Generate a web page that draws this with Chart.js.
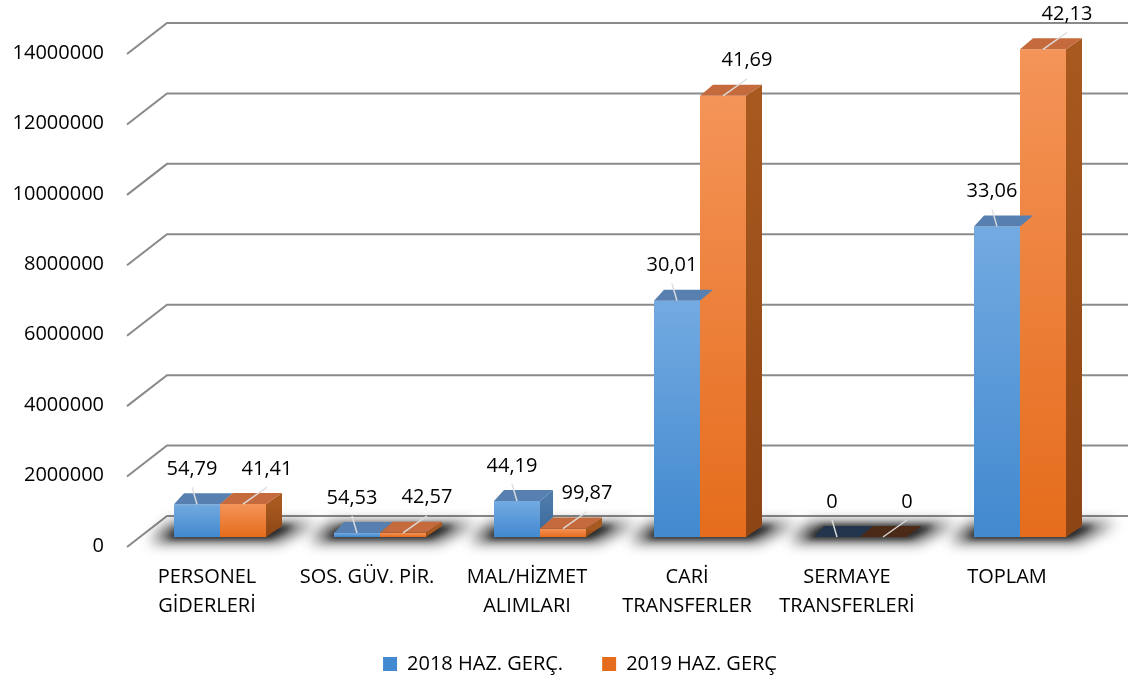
<!DOCTYPE html>
<html><head><meta charset="utf-8">
<script src="https://cdn.jsdelivr.net/npm/chart.js@4.4.1/dist/chart.umd.min.js"></script>
<style>html,body{margin:0;padding:0;background:#fff;}canvas{display:block}</style>
</head><body>
<canvas id="c" width="1136" height="684"></canvas>
<script>
const categories = [["PERSONEL","GİDERLERİ"],["SOS. GÜV. PİR."],["MAL/HİZMET","ALIMLARI"],["CARİ","TRANSFERLER"],["SERMAYE","TRANSFERLERİ"],["TOPLAM"]];
const seriesNames = ["2018 HAZ. GERÇ.", "2019 HAZ. GERÇ"];
const values2018 = [930000, 115000, 1020000, 6710000, 0, 8820000];
const values2019 = [935000, 120000, 240000, 12530000, 0, 13850000];
const labels2018 = ["54,79","54,53","44,19","30,01","0","33,06"];
const labels2019 = ["41,41","42,57","99,87","41,69","0","42,13"];
const yTicks = [0, 2000000, 4000000, 6000000, 8000000, 10000000, 12000000, 14000000];

const FONT = "'Open Sans', sans-serif";
const DXL = 10, DXR = 16, DY = -11;
const palette = [
  {solid:'#5b9bd5', front:['#73aae1','#4289cf'], top:'#5780b0', side:['#4a79aa','#3a6899'], zeroTop:'#22354c', label:{dx:-5, dy:-35}},
  {solid:'#ed7d31', front:['#f49458','#e56c1c'], top:'#c46a3c', side:['#a8591f','#8e4514'], zeroTop:'#4b2a18', label:{dx:24, dy:-35}}
];

function frontFill(c){
  const ds = c.datasetIndex;
  const p = palette[ds];
  if (c.type !== 'data' || !c.chart.scales || !c.chart.scales.y) return p.solid;
  const ys = c.chart.scales.y;
  const top = ys.getPixelForValue(c.parsed.y), base = ys.getPixelForValue(0);
  if (!isFinite(top) || !isFinite(base) || Math.abs(base - top) < 1) return p.front[1];
  const g = c.chart.ctx.createLinearGradient(0, top, 0, base);
  g.addColorStop(0, p.front[0]); g.addColorStop(1, p.front[1]);
  return g;
}
function dxAt(px, pairL, pairW){
  return DXL + (DXR - DXL) * Math.max(0, Math.min(1, (px - pairL) / pairW));
}
function poly(ctx, pts, fill){
  ctx.beginPath(); ctx.moveTo(pts[0][0], pts[0][1]);
  for (let k = 1; k < pts.length; k++) ctx.lineTo(pts[k][0], pts[k][1]);
  ctx.closePath(); ctx.fillStyle = fill; ctx.fill();
}

const threeD = {
  id: 'threeD',
  afterLayout(chart){
    if (chart.legend) { chart.legend.left += 30; chart.legend.right += 30; }
  },
  beforeDatasetsDraw(chart){
    const {ctx, chartArea: a, scales: {y}} = chart;
    ctx.save();
    ctx.strokeStyle = '#8a8a8a'; ctx.lineWidth = 2;
    yTicks.forEach(v => {
      const py = y.getPixelForValue(v);
      ctx.beginPath(); ctx.moveTo(a.left - 13, py + 10); ctx.lineTo(a.left + 27, py - 21); ctx.lineTo(chart.width - 8, py - 21); ctx.stroke();
    });
    const m0 = chart.getDatasetMeta(0), m1 = chart.getDatasetMeta(1);
    m0.data.forEach((b, i) => {
      const w = b.width, L = b.x - w/2, R = m1.data[i].x + w/2, base = b.base;
      ctx.save();
      ctx.filter = 'blur(7px)';
      poly(ctx, [[L-24, base+5],[R+12, base+5],[R+DXR+34, base+DY-3],[L+DXL-14, base+DY-3]], 'rgba(20,20,20,0.75)');
      ctx.filter = 'blur(3px)';
      poly(ctx, [[L-8, base+2],[R+4, base+2],[R+DXR+14, base+DY-1],[L+DXL-2, base+DY-1]], 'rgba(10,10,10,0.7)');
      ctx.restore();
    });
    ctx.restore();
  },
  afterDatasetsDraw(chart){
    const ctx = chart.ctx, xs = chart.scales.x;
    const metas = [chart.getDatasetMeta(0), chart.getDatasetMeta(1)];
    ctx.save();
    metas[0].data.forEach((b0, i) => {
      const b1 = metas[1].data[i];
      const w = b0.width, c = xs.getPixelForValue(i), pairL = c - w, pairW = 2*w;
      [b0, b1].forEach((b, ds) => {
        const p = palette[ds];
        const L = b.x - w/2, R = b.x + w/2, top = b.y, base = b.base;
        const dl = dxAt(L, pairL, pairW), dr = dxAt(R, pairL, pairW);
        const v = chart.data.datasets[ds].data[i];
        const sideBottom = ds === 0 ? Math.min(base, b1.y) : base;
        if (sideBottom - top > 0.5) {
          const g = ctx.createLinearGradient(0, top, 0, base);
          g.addColorStop(0, p.side[0]); g.addColorStop(1, p.side[1]);
          poly(ctx, [[R, top],[R+dr, top+DY],[R+dr, sideBottom+DY],[R, sideBottom]], g);
        }
        poly(ctx, [[L, top],[R, top],[R+dr, top+DY],[L+dl, top+DY]], v === 0 ? p.zeroTop : p.top);
      });
    });
    [0, 1].forEach(ds => {
      const p = palette[ds];
      const texts = ds === 0 ? labels2018 : labels2019;
      metas[ds].data.forEach((b, i) => {
        const ax = b.x, ay = b.y, lx = ax + p.label.dx, ly = ay + p.label.dy;
        ctx.strokeStyle = 'rgba(222,222,222,0.95)'; ctx.lineWidth = 1.5;
        ctx.beginPath(); ctx.moveTo(ax, ay); ctx.lineTo(lx, ly + 18); ctx.stroke();
        ctx.fillStyle = '#000'; ctx.font = '20px ' + FONT; ctx.textAlign = 'center'; ctx.textBaseline = 'middle';
        ctx.fillText(texts[i], lx, ly);
      });
    });
    ctx.restore();
  }
};

new Chart(document.getElementById('c'), {
  type: 'bar',
  data: {
    labels: categories,
    datasets: [
      {label: seriesNames[0], data: values2018, backgroundColor: frontFill, borderWidth: 0, categoryPercentage: 0.575, barPercentage: 1},
      {label: seriesNames[1], data: values2019, backgroundColor: frontFill, borderWidth: 0, categoryPercentage: 0.575, barPercentage: 1}
    ]
  },
  options: {
    responsive: false, animation: false, devicePixelRatio: 1,
    layout: {padding: {left: 0, right: 36, top: 44, bottom: 0}},
    scales: {
      x: {
        grid: {display: false, drawTicks: false}, border: {display: false},
        ticks: {font: {family: FONT, size: 20, lineHeight: 1.45}, color: '#000', padding: 26, labelOffset: -13, maxRotation: 0, autoSkip: false},
        afterFit(s){ s.height = 78; s.paddingLeft = 0; s.paddingRight = 0; }
      },
      y: {
        min: 0, max: 14000000,
        grid: {display: false, drawTicks: false}, border: {display: false},
        afterBuildTicks(s){ s.ticks = yTicks.map(v => ({value: v})); },
        ticks: {font: {family: FONT, size: 20}, color: '#000', padding: 36, labelOffset: 9, callback: v => String(v)},
        afterFit(s){ s.width = 140; s.paddingTop = 0; s.paddingBottom = 0; }
      }
    },
    plugins: {
      tooltip: {enabled: false},
      legend: {
        position: 'bottom',
        labels: {font: {family: FONT, size: 20}, color: '#000', boxWidth: 14, boxHeight: 14, padding: 39}
      }
    }
  },
  plugins: [threeD]
});
</script>
</body></html>
